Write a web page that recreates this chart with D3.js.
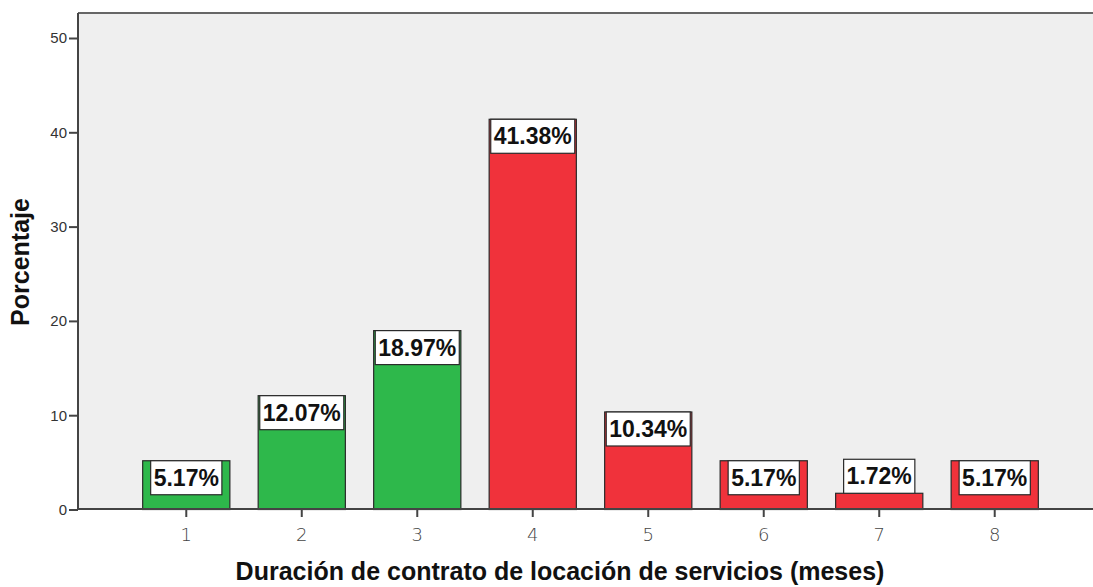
<!DOCTYPE html>
<html>
<head>
<meta charset="utf-8">
<script src="https://cdn.jsdelivr.net/npm/d3@7"></script>
<style>
  body { margin: 0; background: #fff; }
  svg { display: block; font-family: "Liberation Sans", Arial, sans-serif; }
</style>
</head>
<body>
<svg id="chart" width="1093" height="587"></svg>
<script>
// datos del gráfico
const categories = ['1', '2', '3', '4', '5', '6', '7', '8'];
const percentages = [5.17, 12.07, 18.97, 41.38, 10.34, 5.17, 1.72, 5.17];
const groups = ['a', 'a', 'a', 'b', 'b', 'b', 'b', 'b'];
const yTicks = [0, 10, 20, 30, 40, 50];

const width = 1093;
const height = 587;
const margin = { top: 13, left: 78, bottom: 78 };
const plotRight = 1103; // el marco se corta a la derecha
const y0 = height - margin.bottom;

const svg = d3.select('#chart');

const x = d3.scaleBand()
    .domain(categories)
    .range([margin.left, plotRight])
    .paddingInner(0.245)
    .paddingOuter(0.56);

const y = d3.scaleLinear()
    .domain([0, 50])
    .range([y0 + 0.5, 38]);

const color = d3.scaleOrdinal()
    .domain(['a', 'b'])
    .range(['#2eb84b', '#f0323b']);

// fondo del área de trazado
svg.append('rect')
    .attr('x', margin.left)
    .attr('y', margin.top)
    .attr('width', plotRight - margin.left)
    .attr('height', y0 - margin.top)
    .attr('fill', '#efefef');

// barras
const data = categories.map((c, i) => ({ c, v: percentages[i], g: groups[i] }));

svg.append('g')
    .selectAll('rect')
    .data(data)
    .join('rect')
    .attr('x', d => x(d.c))
    .attr('y', d => y(d.v))
    .attr('width', x.bandwidth())
    .attr('height', d => y(0) - y(d.v))
    .attr('fill', d => color(d.g))
    .attr('stroke', '#2a2a2a')
    .attr('stroke-width', 1.2);

// marco
svg.append('line')
    .attr('x1', margin.left).attr('x2', plotRight)
    .attr('y1', margin.top).attr('y2', margin.top)
    .attr('stroke', '#666').attr('stroke-width', 2);

// ejes
const yAxis = svg.append('g')
    .attr('transform', `translate(${margin.left},0)`)
    .call(d3.axisLeft(y).tickValues(yTicks).tickSize(9).tickSizeOuter(0));
yAxis.select('.domain').remove();
yAxis.append('line')
    .attr('x1', 0).attr('x2', 0)
    .attr('y1', margin.top).attr('y2', y0 + 1)
    .attr('stroke', '#444').attr('stroke-width', 2);
yAxis.selectAll('.tick line').attr('stroke', '#444').attr('stroke-width', 2);
yAxis.selectAll('.tick text')
    .attr('x', -11)
    .attr('font-size', 15)
    .attr('fill', '#333')
    .attr('font-family', '"Liberation Sans", Arial, sans-serif');

const xAxis = svg.append('g')
    .attr('transform', `translate(0,${y0})`)
    .call(d3.axisBottom(x).tickSize(8).tickSizeOuter(0));
xAxis.select('.domain').remove();
xAxis.append('line')
    .attr('x1', margin.left).attr('x2', plotRight)
    .attr('y1', 0).attr('y2', 0)
    .attr('stroke', '#444').attr('stroke-width', 2);
xAxis.selectAll('.tick line').attr('stroke', '#444').attr('stroke-width', 2);
xAxis.selectAll('.tick text')
    .attr('y', 19)
    .attr('font-size', 18)
    .attr('fill', '#444')
    .attr('font-family', '"DejaVu Sans", sans-serif')
    .attr('font-weight', 300);

// etiquetas de valor
const boxH = 34;
const labels = svg.append('g')
    .selectAll('g')
    .data(data)
    .join('g');

labels.each(function (d) {
    const g = d3.select(this);
    const txt = g.append('text')
        .text(d.v.toFixed(2) + '%')
        .attr('font-size', 23)
        .attr('font-weight', 'bold')
        .attr('fill', '#111')
        .attr('text-anchor', 'middle');
    const tw = txt.node().getComputedTextLength();
    const bw = Math.min(x.bandwidth(), tw + 6);
    const cx = x(d.c) + x.bandwidth() / 2;
    const top = y(d.v);
    const fits = (y(0) - top) >= boxH + 4;
    const by = fits ? top : top - boxH;
    g.insert('rect', 'text')
        .attr('x', cx - bw / 2)
        .attr('y', by)
        .attr('width', bw)
        .attr('height', boxH)
        .attr('fill', '#fff')
        .attr('stroke', '#2a2a2a')
        .attr('stroke-width', 1.2);
    txt.attr('x', cx).attr('y', by + boxH / 2 + 8);
});

// títulos
svg.append('text')
    .attr('x', 560)
    .attr('y', 580)
    .attr('text-anchor', 'middle')
    .attr('font-size', 25)
    .attr('font-weight', 'bold')
    .attr('fill', '#111')
    .text('Duración de contrato de locación de servicios (meses)');

svg.append('text')
    .attr('transform', 'translate(29,262) rotate(-90)')
    .attr('text-anchor', 'middle')
    .attr('font-size', 25)
    .attr('font-weight', 'bold')
    .attr('fill', '#111')
    .text('Porcentaje');
</script>
</body>
</html>
